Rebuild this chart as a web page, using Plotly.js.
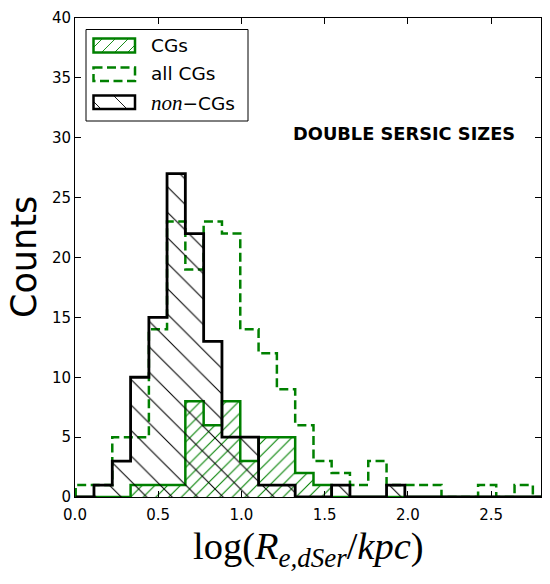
<!DOCTYPE html>
<html>
<head>
<meta charset="utf-8">
<script src="https://cdn.plot.ly/plotly-3.0.1.min.js"></script>
<style>html,body{margin:0;padding:0;background:#fff;}#chart{width:550px;height:584px;}</style>
</head>
<body>
<div id="chart"></div>
<script>
// Bin edges (log R_e) shared by all three histograms
const binEdges = [0.004,0.114,0.224,0.334,0.444,0.553,0.663,0.773,0.883,0.993,1.103,1.213,1.323,1.433,1.542,1.652,1.762,1.872,1.982,2.092,2.202,2.312,2.422,2.531,2.641,2.751,2.861];
// Counts per bin
const cgCounts    = [0,0,0,1,1,1,8,6,8,3,5,5,2,1,0,0,0,0,0,0,0,0,0,0,0,0];
const allCgCounts = [1,1,5,5,14,23,19,23,22,14,12,9,6,3,2,1,3,1,1,1,0,0,1,0,1,0];
const nonCgCounts = [0,1,3,10,15,27,22,13,5,5,1,1,0,0,1,0,0,1,0,0,0,0,0,0,0,0];
const seriesNames = ['CGs','all CGs','non−CGs'];
const xTickVals = [0,0.5,1.0,1.5,2.0,2.5];
const yTickVals = [0,5,10,15,20,25,30,35,40];

function stepXY(edges, counts){
  const xs=[edges[0]], ys=[0];
  for(let i=0;i<counts.length;i++){xs.push(edges[i]); ys.push(counts[i]);}
  xs.push(edges[counts.length]); ys.push(0);
  return {x:xs,y:ys};
}

const W=550,H=584, L=75, R=9, T=18, B=87;
const pw=W-L-R, ph=H-T-B;
const px = v => (v-L)/pw;
const py = v => (H-B-v)/ph;

const sCG=stepXY(binEdges,cgCounts), sAll=stepXY(binEdges,allCgCounts), sNon=stepXY(binEdges,nonCgCounts);

const traces=[
  {x:sCG.x,y:sCG.y,type:'scatter',mode:'lines',line:{shape:'hv',color:'green',width:2.5},
   fill:'tozeroy',fillcolor:'rgba(0,0,0,0)',
   fillpattern:{shape:'/',fgcolor:'green',bgcolor:'rgba(0,0,0,0)',size:9,solidity:0.12},
   name:seriesNames[0],showlegend:false,hoverinfo:'skip'},
  {x:sAll.x,y:sAll.y,type:'scatter',mode:'lines',line:{shape:'hv',color:'green',width:2.5,dash:'9px,4.5px'},
   name:seriesNames[1],showlegend:false,hoverinfo:'skip'},
  {x:sNon.x,y:sNon.y,type:'scatter',mode:'lines',line:{shape:'hv',color:'black',width:2.8},
   fill:'tozeroy',fillcolor:'rgba(0,0,0,0)',
   fillpattern:{shape:'\\',fgcolor:'black',bgcolor:'rgba(0,0,0,0)',size:18,solidity:0.06},
   name:seriesNames[2],showlegend:false,hoverinfo:'skip'}
];

// Manual legend (matplotlib style)
const shapes=[];
const annotations=[];
shapes.push({type:'rect',xref:'paper',yref:'paper',x0:px(86),x1:px(248),y0:py(29.5),y1:py(121),
  line:{color:'black',width:1},fillcolor:'white',layer:'above'});
function hatch(x0,y0,x1,y1,s,dir,color,off){
  for(let c=-200;c<800;c+=s){
    let cc=c+off;
    let xa,xb;
    if(dir==='/'){ xa=Math.max(x0,cc-y1); xb=Math.min(x1,cc-y0);
      if(xa<xb) shapes.push({type:'line',xref:'paper',yref:'paper',x0:px(xa),y0:py(cc-xa),x1:px(xb),y1:py(cc-xb),line:{color:color,width:0.9},layer:'above'});
    } else { xa=Math.max(x0,cc+y0); xb=Math.min(x1,cc+y1);
      if(xa<xb) shapes.push({type:'line',xref:'paper',yref:'paper',x0:px(xa),y0:py(xa-cc),x1:px(xb),y1:py(xb-cc),line:{color:color,width:0.9},layer:'above'});
    }
  }
}
const sx0=93.5,sx1=135;
const rows=[[38.5,52.5],[67.5,81],[95.5,109]];
hatch(sx0,rows[0][0],sx1,rows[0][1],13,'/','green',3);
shapes.push({type:'rect',xref:'paper',yref:'paper',x0:px(sx0),x1:px(sx1),y0:py(rows[0][0]),y1:py(rows[0][1]),line:{color:'green',width:2.5},fillcolor:'rgba(0,0,0,0)',layer:'above'});
shapes.push({type:'rect',xref:'paper',yref:'paper',x0:px(sx0),x1:px(sx1),y0:py(rows[1][0]),y1:py(rows[1][1]),line:{color:'green',width:2.5,dash:'9px,4.5px'},fillcolor:'rgba(0,0,0,0)',layer:'above'});
hatch(sx0,rows[2][0],sx1,rows[2][1],26,'\\','black',10);
shapes.push({type:'rect',xref:'paper',yref:'paper',x0:px(sx0),x1:px(sx1),y0:py(rows[2][0]),y1:py(rows[2][1]),line:{color:'black',width:2.5},fillcolor:'rgba(0,0,0,0)',layer:'above'});

const legFont={family:'DejaVu Sans',size:18.5,color:'black'};
annotations.push({xref:'paper',yref:'paper',x:px(149),y:py(45.5),xanchor:'left',yanchor:'middle',showarrow:false,text:seriesNames[0],font:legFont});
annotations.push({xref:'paper',yref:'paper',x:px(149),y:py(74),xanchor:'left',yanchor:'middle',showarrow:false,text:seriesNames[1],font:legFont});
annotations.push({xref:'paper',yref:'paper',x:px(149),y:py(102.5),xanchor:'left',yanchor:'middle',showarrow:false,
  text:"<span style='font-family:\"Liberation Serif\";font-style:italic;font-size:21px'>non</span>−CGs",font:legFont});

annotations.push({xref:'paper',yref:'paper',x:px(404),y:py(133),xanchor:'center',yanchor:'middle',showarrow:false,
  text:'<b>DOUBLE SERSIC SIZES</b>',font:{family:'DejaVu Sans',size:17.8,color:'black'}});
annotations.push({xref:'paper',yref:'paper',x:px(23.5),y:0.5,xanchor:'center',yanchor:'middle',showarrow:false,textangle:-90,
  text:'Counts',font:{family:'DejaVu Sans',size:35,color:'black'}});
annotations.push({xref:'paper',yref:'paper',x:0.5,y:py(549),xanchor:'center',yanchor:'middle',showarrow:false,
  text:'log(<i>R</i><sub><i>e,dSer</i></sub>/<i>kpc</i>)',font:{family:'Liberation Serif',size:38.5,color:'black'}});

const axCommon={showgrid:false,zeroline:false,showline:true,linecolor:'black',linewidth:1,mirror:'ticks',
  ticks:'inside',ticklen:6,tickwidth:1,tickcolor:'black',tickfont:{family:'DejaVu Sans',size:15,color:'black'}};
const layout={
  width:W,height:H,margin:{l:L,r:R,t:T,b:B},paper_bgcolor:'white',plot_bgcolor:'white',showlegend:false,
  xaxis:Object.assign({},axCommon,{range:[0,2.8],tickvals:xTickVals,ticktext:xTickVals.map(v=>v.toFixed(1)),ticklabelstandoff:4}),
  yaxis:Object.assign({},axCommon,{range:[0,40],tickvals:yTickVals,ticktext:yTickVals.map(String)}),
  shapes:shapes,annotations:annotations
};
Plotly.newPlot('chart',traces,layout,{staticPlot:true});
</script>
</body>
</html>
